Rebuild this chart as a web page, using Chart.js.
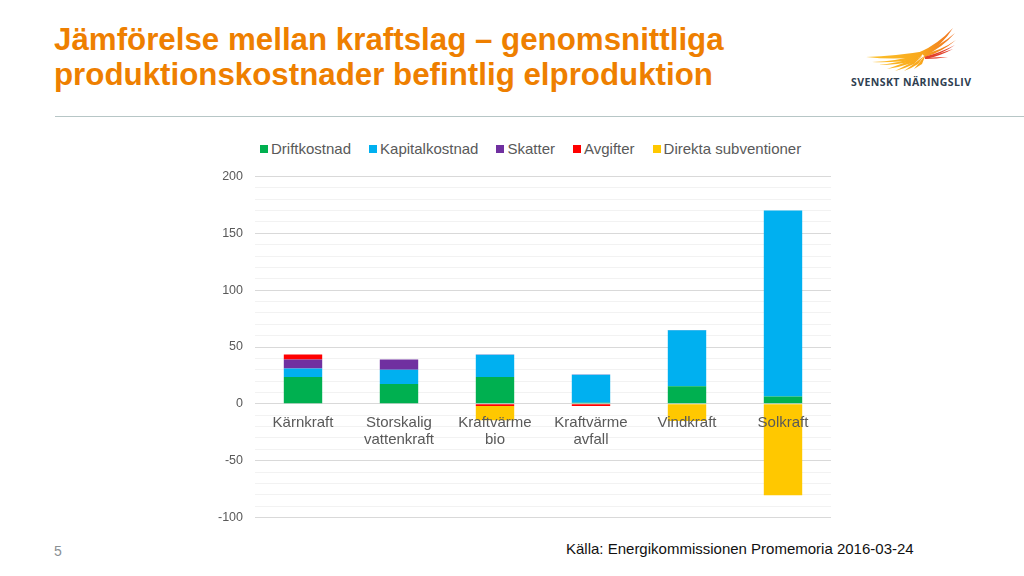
<!DOCTYPE html>
<html lang="sv">
<head>
<meta charset="utf-8">
<script src="https://cdn.jsdelivr.net/npm/chart.js@4"></script>
<style>
    html, body { margin: 0; padding: 0; background: #fff; }
    body { position: relative; width: 1024px; height: 576px; overflow: hidden; font-family: "Liberation Sans", Arial, sans-serif; }
    h1 { position: absolute; left: 54px; top: 23px; margin: 0; font-size: 31.3px; line-height: 34.5px; font-weight: bold; color: #ee7f00; white-space: nowrap; }
    #rule { position: absolute; left: 55px; top: 116px; width: 969px; height: 1px; background: #b7c6c6; }
    #logo { position: absolute; left: 850px; top: 24px; }
    #chartBox { position: absolute; left: 205px; top: 130px; width: 640px; height: 407px; }
    #legend { position: absolute; left: 260px; top: 140px; display: flex; gap: 18px; font-size: 15px; line-height: 18px; color: #595959; white-space: nowrap; }
    #legend span { display: flex; align-items: center; gap: 3px; }
    #legend i { display: block; width: 8px; height: 8px; }
    #pageNo { position: absolute; left: 54px; top: 543px; font-size: 14px; color: #8a9094; }
    #source { position: absolute; left: 566px; top: 540px; font-size: 15px; color: #111; white-space: nowrap; }
</style>
</head>
<body>
<h1>Jämförelse mellan kraftslag – genomsnittliga<br>produktionskostnader befintlig elproduktion</h1>
<svg id="logo" width="125" height="66" viewBox="0 0 125 66">
    <defs>
        <linearGradient id="wing" gradientUnits="userSpaceOnUse" x1="16" y1="0" x2="106" y2="0">
            <stop offset="0" stop-color="#fcc22c"/>
            <stop offset="0.6" stop-color="#f9a81c"/>
            <stop offset="1" stop-color="#ef6d20"/>
        </linearGradient>
    </defs>
    <g fill="url(#wing)">
        <path d="M16 33 Q46 32 76 27 L70 33 Q44 36 16 33 Z"/>
        <path d="M22 38 Q48 37 72 30 L66 35 Q46 39 22 38 Z"/>
        <path d="M28 41 Q50 39 72 31 L64 37 Q48 41 28 41 Z"/>
        <path d="M37 45 Q54 39 72 32 L62 39 Q50 43 37 45 Z"/>
        <path d="M45 47 Q58 41 72 32 L64 40 Q56 44 45 47 Z"/>
        <path d="M54 47 Q64 40 74 32 L68 40 Q62 44 54 47 Z"/>
        <path d="M64 45 Q70 38 76 30 L72 40 Z"/>
        <path d="M70 28 Q88 20 103 4 Q92 22 74 31 Z"/>
        <path d="M72 29 Q90 22 105 9 Q92 24 74 32 Z"/>
        <path d="M74 30 Q92 26 106 16 Q92 28 75 33 Z"/>
    </g>
    <g fill="#e2402a">
        <path d="M74 33 Q92 28 105 21 Q92 30 76 34 Z"/>
        <path d="M75 33 Q90 30 103 25 Q90 32 76 35 Z"/>
        <path d="M75 34 Q88 33 98 33 Q86 35 75 35 Z"/>
    </g>
    <text x="1" y="61.5" font-family="'Open Sans', sans-serif" font-size="10.5" font-weight="700" fill="#2f4050" textLength="120">SVENSKT NÄRINGSLIV</text>
</svg>
<div id="rule"></div>
<div id="legend"></div>
<div id="chartBox"><canvas id="costChart" width="640" height="407"></canvas></div>
<div id="pageNo">5</div>
<div id="source">Källa: Energikommissionen Promemoria 2016-03-24</div>

<script>
const categories = ['Kärnkraft', ['Storskalig', 'vattenkraft'], ['Kraftvärme', 'bio'], ['Kraftvärme', 'avfall'], 'Vindkraft', 'Solkraft'];
const driftkostnad = [23.6, 17.5, 23.6, 1, 15.5, 6.5];
const kapitalkostnad = [7.4, 12.5, 19.6, 24.6, 49.2, 163.5];
const skatter = [8, 9, 0.3, 0.3, 0.2, 0];
const avgifter = [4.4, 0, -1.8, -1.8, 0, 0];
const subventioner = [0, 0, -12.7, 0, -15, -80.5];
const yTicks = [-100, -50, 0, 50, 100, 150, 200];

const textColor = '#595959';

const chart = new Chart(document.getElementById('costChart'), {
    type: 'bar',
    data: {
        labels: categories,
        datasets: [
            { label: 'Driftkostnad', data: driftkostnad, backgroundColor: '#00b050' },
            { label: 'Kapitalkostnad', data: kapitalkostnad, backgroundColor: '#00b0f0' },
            { label: 'Skatter', data: skatter, backgroundColor: '#7030a0' },
            { label: 'Avgifter', data: avgifter, backgroundColor: '#ff0000' },
            { label: 'Direkta subventioner', data: subventioner, backgroundColor: '#ffc800' },
        ],
    },
    options: {
        responsive: false,
        animation: false,
        barPercentage: 0.4,
        categoryPercentage: 1,
        layout: { padding: { top: 46.5, right: 14, bottom: 9, left: 0 } },
        plugins: {
            tooltip: { enabled: false },
            legend: { display: false },
        },
        scales: {
            x: {
                stacked: true,
                position: { y: 0 },
                grid: { display: false },
                border: { display: false },
                ticks: {
                    z: 1,
                    color: textColor,
                    maxRotation: 0,
                    autoSkip: false,
                    padding: 3,
                    font: { family: 'Liberation Sans', size: 15, lineHeight: 1.13 },
                },
            },
            y: {
                stacked: true,
                min: -100,
                max: 200,
                afterFit: function (scale) { scale.width = 50; },
                grid: {
                    drawTicks: false,
                    color: function (ctx) { return yTicks.includes(ctx.tick.value) ? '#d9d9d9' : '#f2f2f2'; },
                },
                border: { display: false },
                ticks: {
                    stepSize: 10,
                    autoSkip: false,
                    color: textColor,
                    padding: 12,
                    font: { family: 'Liberation Sans', size: 12.5 },
                    callback: function (value) { return yTicks.includes(value) ? value : ''; },
                },
            },
        },
    },
});

// legend as html, the built-in one leaves too wide a gap after the box
chart.data.datasets.forEach(function (dataset) {
    let item = document.createElement('span');
    let box = document.createElement('i');
    box.style.background = dataset.backgroundColor;
    item.appendChild(box);
    item.appendChild(document.createTextNode(dataset.label));
    document.getElementById('legend').appendChild(item);
});
</script>
</body>
</html>
